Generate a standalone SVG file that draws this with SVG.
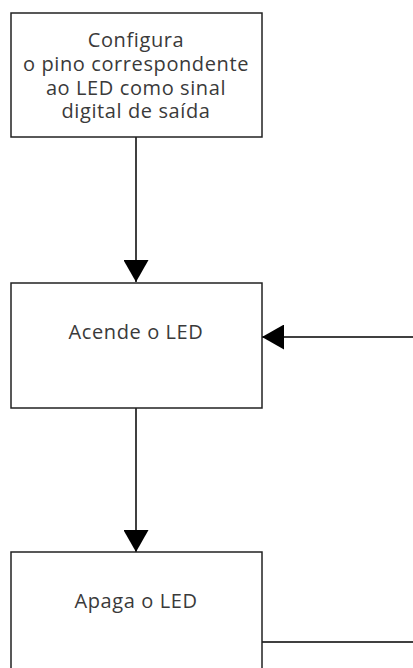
<svg xmlns="http://www.w3.org/2000/svg" width="413" height="668" viewBox="0 0 413 668">
<defs>
<style>
.box{fill:#fff;stroke:#222;stroke-width:1.5}
.t{font-family:"Open Sans","Liberation Sans",sans-serif;font-size:20px;letter-spacing:0.6px;fill:#3a3a3a;text-anchor:middle}
.c{fill:none;stroke:#000;stroke-width:1.5}
</style>
<marker id="ah" markerWidth="22" markerHeight="25" viewBox="0 0 22 25" refX="22" refY="12.5" orient="auto" markerUnits="userSpaceOnUse">
<path d="M0,0 L22,12.5 L0,25 Z" fill="#000"/>
</marker>
</defs>
<rect width="413" height="668" fill="#fff"/>
<g id="connectors">
<path class="c" d="M136,137 V282" marker-end="url(#ah)"/>
<path class="c" d="M136,408 V552" marker-end="url(#ah)"/>
<path class="c" d="M262,642 H413"/>
<path class="c" d="M413,337 H262" marker-end="url(#ah)"/>
</g>
<g id="n1">
<rect class="box" x="11" y="13" width="251" height="124"/>
<text class="t" x="136" y="47">Configura</text>
<text class="t" x="136" y="71">o pino correspondente</text>
<text class="t" x="136" y="94.5">ao LED como sinal</text>
<text class="t" x="136" y="118">digital de saída</text>
</g>
<g id="n2">
<rect class="box" x="11" y="283" width="251" height="125"/>
<text class="t" x="136" y="339">Acende o LED</text>
</g>
<g id="n3">
<rect class="box" x="11" y="552" width="251" height="125"/>
<text class="t" x="136" y="608">Apaga o LED</text>
</g>
</svg>
